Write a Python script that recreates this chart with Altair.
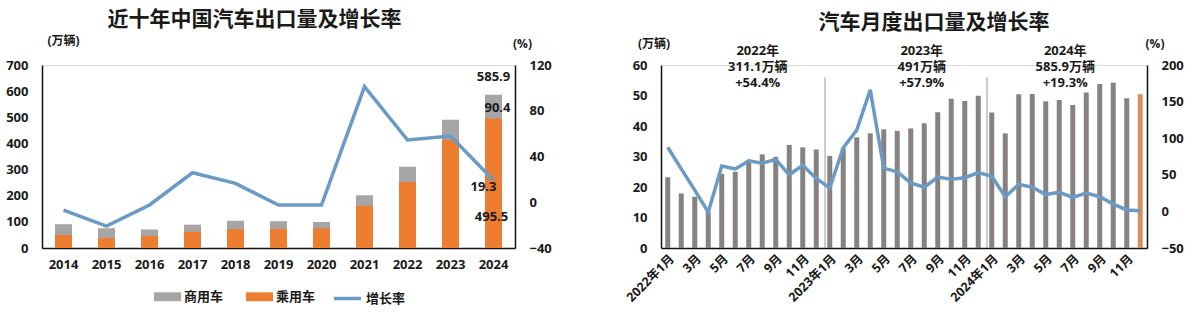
import altair as alt
import pandas as pd

# ---------------- data ----------------
years = ["2014", "2015", "2016", "2017", "2018", "2019", "2020", "2021", "2022", "2023", "2024"]
total = [91.0, 75.5, 70.8, 89.1, 104.1, 102.4, 99.5, 201.5, 311.1, 491.0, 585.9]
passenger = [50.0, 38.0, 46.0, 62.0, 72.0, 73.0, 75.0, 161.4, 252.9, 414.0, 495.5]
growth = [-6.8, -20.8, -2.4, 25.8, 16.5, -2.4, -2.4, 101.1, 54.4, 57.9, 19.3]

left_labels = ["585.9", "90.4", "19.3", "495.5"]
left_label_year = ["2024", "2024", "2024", "2024"]
left_label_y = [654, 535, 233, 118]
left_label_dx = [0, 4, -10, -2]

months = [f"{y}-{m:02d}" for y in (2022, 2023, 2024) for m in range(1, 13)]
monthly_vol = [23.2, 17.9, 16.8, 11.9, 24.3, 25.0, 28.9, 30.7, 29.9, 33.8, 33.0, 32.3,
               30.2, 32.7, 36.3, 37.6, 38.9, 38.4, 39.2, 40.9, 44.5, 48.9, 48.2, 49.9,
               44.4, 37.6, 50.4, 50.5, 48.1, 48.5, 46.9, 51.0, 53.8, 54.2, 49.1, 50.4]
monthly_rate = [87.6, 58.0, 29.0, -1.0, 62.0, 58.0, 69.0, 65.7, 71.0, 50.0, 63.0, 45.0,
                32.0, 87.0, 111.0, 166.0, 59.0, 54.0, 39.0, 33.0, 47.0, 44.0, 46.0, 53.0,
                48.0, 20.0, 37.0, 33.0, 23.0, 26.0, 19.0, 25.0, 20.0, 10.0, 2.0, 1.0]

sep_months = ["2023-01", "2024-01"]
sep_top = [56, 56]

ann_text = [["2022年", "311.1万辆", "+54.4%"],
            ["2023年", "491万辆", "+57.9%"],
            ["2024年", "585.9万辆", "+19.3%"]]
ann_month = ["2022-07", "2023-07", "2024-06"]
ann_dx = [9, 11, 6]
ann_y = 66.5

bar_series = ["商用车", "乘用车"]
line_series = ["增长率"]

# ---------------- styles ----------------
FONT = "Open Sans, Noto Sans CJK SC"
GRAY = "#A5A5A5"
ORANGE = "#ED7D31"
BLUE = "#6B9AC4"
MGRAY = "#868282"
MORANGE = "#D98F5C"
TXT = "#1a1a1a"

RECT = "M-1,-0.33L1,-0.33L1,0.33L-1,0.33Z"


def yaxis(orient, values, title, tx, ty):
    return alt.Axis(orient=orient, values=values, title=title, titleAngle=0,
                    titleX=tx, titleY=ty, titleAlign="center", titleBaseline="middle",
                    titleFont=FONT, titleFontSize=12, titleFontWeight="bold", titleColor=TXT,
                    labelFont=FONT, labelFontSize=13, labelFontWeight="bold", labelColor=TXT,
                    ticks=False, labelPadding=14, grid=False,
                    domainColor="#111", domainWidth=1.5, labelFlush=False)


# ---------------- left chart ----------------
df_y = pd.DataFrame({"year": years, "total": total, "passenger": passenger, "growth": growth})
df_ll = pd.DataFrame({"year": left_label_year, "y": left_label_y, "t": left_labels, "dx": left_label_dx})

xL = alt.X("year:N", sort=years, scale=alt.Scale(paddingInner=0, paddingOuter=0),
           axis=alt.Axis(title=None, labelAngle=0, labelFont=FONT, labelFontSize=13,
                         labelFontWeight="bold", labelColor=TXT, ticks=False, labelPadding=10,
                         domainColor="#111", domainWidth=1.5))

color_scale = alt.Scale(domain=bar_series, range=[GRAY, ORANGE])
legend_bars = alt.Legend(orient="none", legendX=112, legendY=218, direction="horizontal", title=None,
                         labelFont=FONT, labelFontSize=13, labelFontWeight="bold", labelColor=TXT,
                         symbolType=RECT, symbolSize=729, symbolStrokeWidth=0, labelOffset=3,
                         columnPadding=22)
legend_line = alt.Legend(orient="none", legendX=290, legendY=218, direction="horizontal", title=None,
                         labelFont=FONT, labelFontSize=13, labelFontWeight="bold", labelColor=TXT,
                         symbolType="stroke", symbolSize=729, symbolStrokeWidth=3.5, labelOffset=3)

LAX = yaxis("left", list(range(0, 701, 100)), "(万辆)", 21, -25)
yscaleL = alt.Scale(domain=[0, 700])

bars_total = alt.Chart(df_y).transform_calculate(series="'商用车'").mark_bar(size=17).encode(
    x=xL, y=alt.Y("total:Q", scale=yscaleL, axis=LAX),
    color=alt.Color("series:N", scale=color_scale, legend=legend_bars))
bars_pass = alt.Chart(df_y).transform_calculate(series="'乘用车'").mark_bar(size=17).encode(
    x=xL, y=alt.Y("passenger:Q", scale=yscaleL, axis=LAX),
    color=alt.Color("series:N", scale=color_scale, legend=legend_bars))

lbl_layers = []
for i in range(len(left_labels)):
    lbl_layers.append(
        alt.Chart(df_ll.iloc[[i]]).mark_text(font=FONT, fontSize=13, fontWeight="bold",
                                             color=TXT, dx=left_label_dx[i]).encode(
            x=xL, y=alt.Y("y:Q", scale=yscaleL, axis=LAX), text="t:N"))

left_bars = alt.layer(bars_total, bars_pass, *lbl_layers)

line_l = alt.Chart(df_y).transform_calculate(series="'增长率'").mark_line(strokeWidth=3.5).encode(
    x=xL,
    y=alt.Y("growth:Q", scale=alt.Scale(domain=[-40, 120]),
            axis=yaxis("right", [-40, 0, 40, 80, 120], "(%)", 7, -22)),
    stroke=alt.Stroke("series:N", scale=alt.Scale(domain=line_series, range=[BLUE]),
                      legend=legend_line))

left = alt.layer(left_bars, line_l).resolve_scale(y="independent").properties(
    width=473, height=183,
    title=alt.TitleParams("近十年中国汽车出口量及增长率", font=FONT, fontSize=21, fontWeight="bold",
                          color=TXT, anchor="middle", dx=-24, offset=4))

# ---------------- right chart ----------------
df_m = pd.DataFrame({"m": months, "vol": monthly_vol, "rate": monthly_rate})
df_sep = pd.DataFrame({"m": sep_months, "top": sep_top})

label_expr = ("toNumber(slice(datum.value, 5)) % 2 == 1 ? "
              "(slice(datum.value, 5) == '01' ? slice(datum.value, 0, 4) + '年1月' : "
              "toNumber(slice(datum.value, 5)) + '月') : ''")

xR = alt.X("m:N", sort=months, scale=alt.Scale(paddingInner=0, paddingOuter=0),
           axis=alt.Axis(title=None, labelAngle=315, labelExpr=label_expr, labelFont=FONT,
                         labelFontSize=12.5, labelFontWeight="bold", labelColor=TXT, ticks=False,
                         labelPadding=4, domainColor="#111", domainWidth=1.5, labelOverlap=False))

RAX = yaxis("left", list(range(0, 61, 10)), "(万辆)", -7.5, -22)
yscaleR = alt.Scale(domain=[0, 60])

bars_m = alt.Chart(df_m).mark_bar(size=5).encode(
    x=xR, y=alt.Y("vol:Q", scale=yscaleR, axis=RAX),
    color=alt.condition(alt.datum.m == "2024-12", alt.value(MORANGE), alt.value(MGRAY)))

seps = alt.Chart(df_sep).mark_rule(color="#9a9a9a", strokeWidth=1).encode(
    x=alt.X("m:N", sort=months, bandPosition=0.15),
    y=alt.Y("top:Q", scale=yscaleR, axis=RAX),
    y2=alt.datum(0))

ann_layers = []
for i in range(len(ann_text)):
    d = pd.DataFrame({"m": [ann_month[i]], "y": [ann_y], "t": [ann_text[i]]})
    ann_layers.append(
        alt.Chart(d).mark_text(font=FONT, fontSize=13, fontWeight="bold", color=TXT,
                               dx=ann_dx[i], baseline="top", lineHeight=16).encode(
            x=alt.X("m:N", sort=months),
            y=alt.Y("y:Q", scale=yscaleR, axis=RAX),
            text="t"))

right_bars = alt.layer(bars_m, seps, *ann_layers)

line_r = alt.Chart(df_m).mark_line(strokeWidth=3.5, color=BLUE).encode(
    x=xR,
    y=alt.Y("rate:Q", scale=alt.Scale(domain=[-50, 200]),
            axis=yaxis("right", [-50, 0, 50, 100, 150, 200], "(%)", 7.5, -22)))

right = alt.layer(right_bars, line_r).resolve_scale(y="independent").properties(
    width=486, height=183,
    title=alt.TitleParams("汽车月度出口量及增长率", font=FONT, fontSize=21, fontWeight="bold",
                          color=TXT, anchor="middle", dx=30, offset=4))

chart = alt.hconcat(left, right, spacing=71).configure_view(stroke=None).configure(
    background="white", padding={"left": 5, "top": 8, "right": 5, "bottom": 5})

chart.save("out.html", embed_options={"renderer": "svg", "actions": False})
